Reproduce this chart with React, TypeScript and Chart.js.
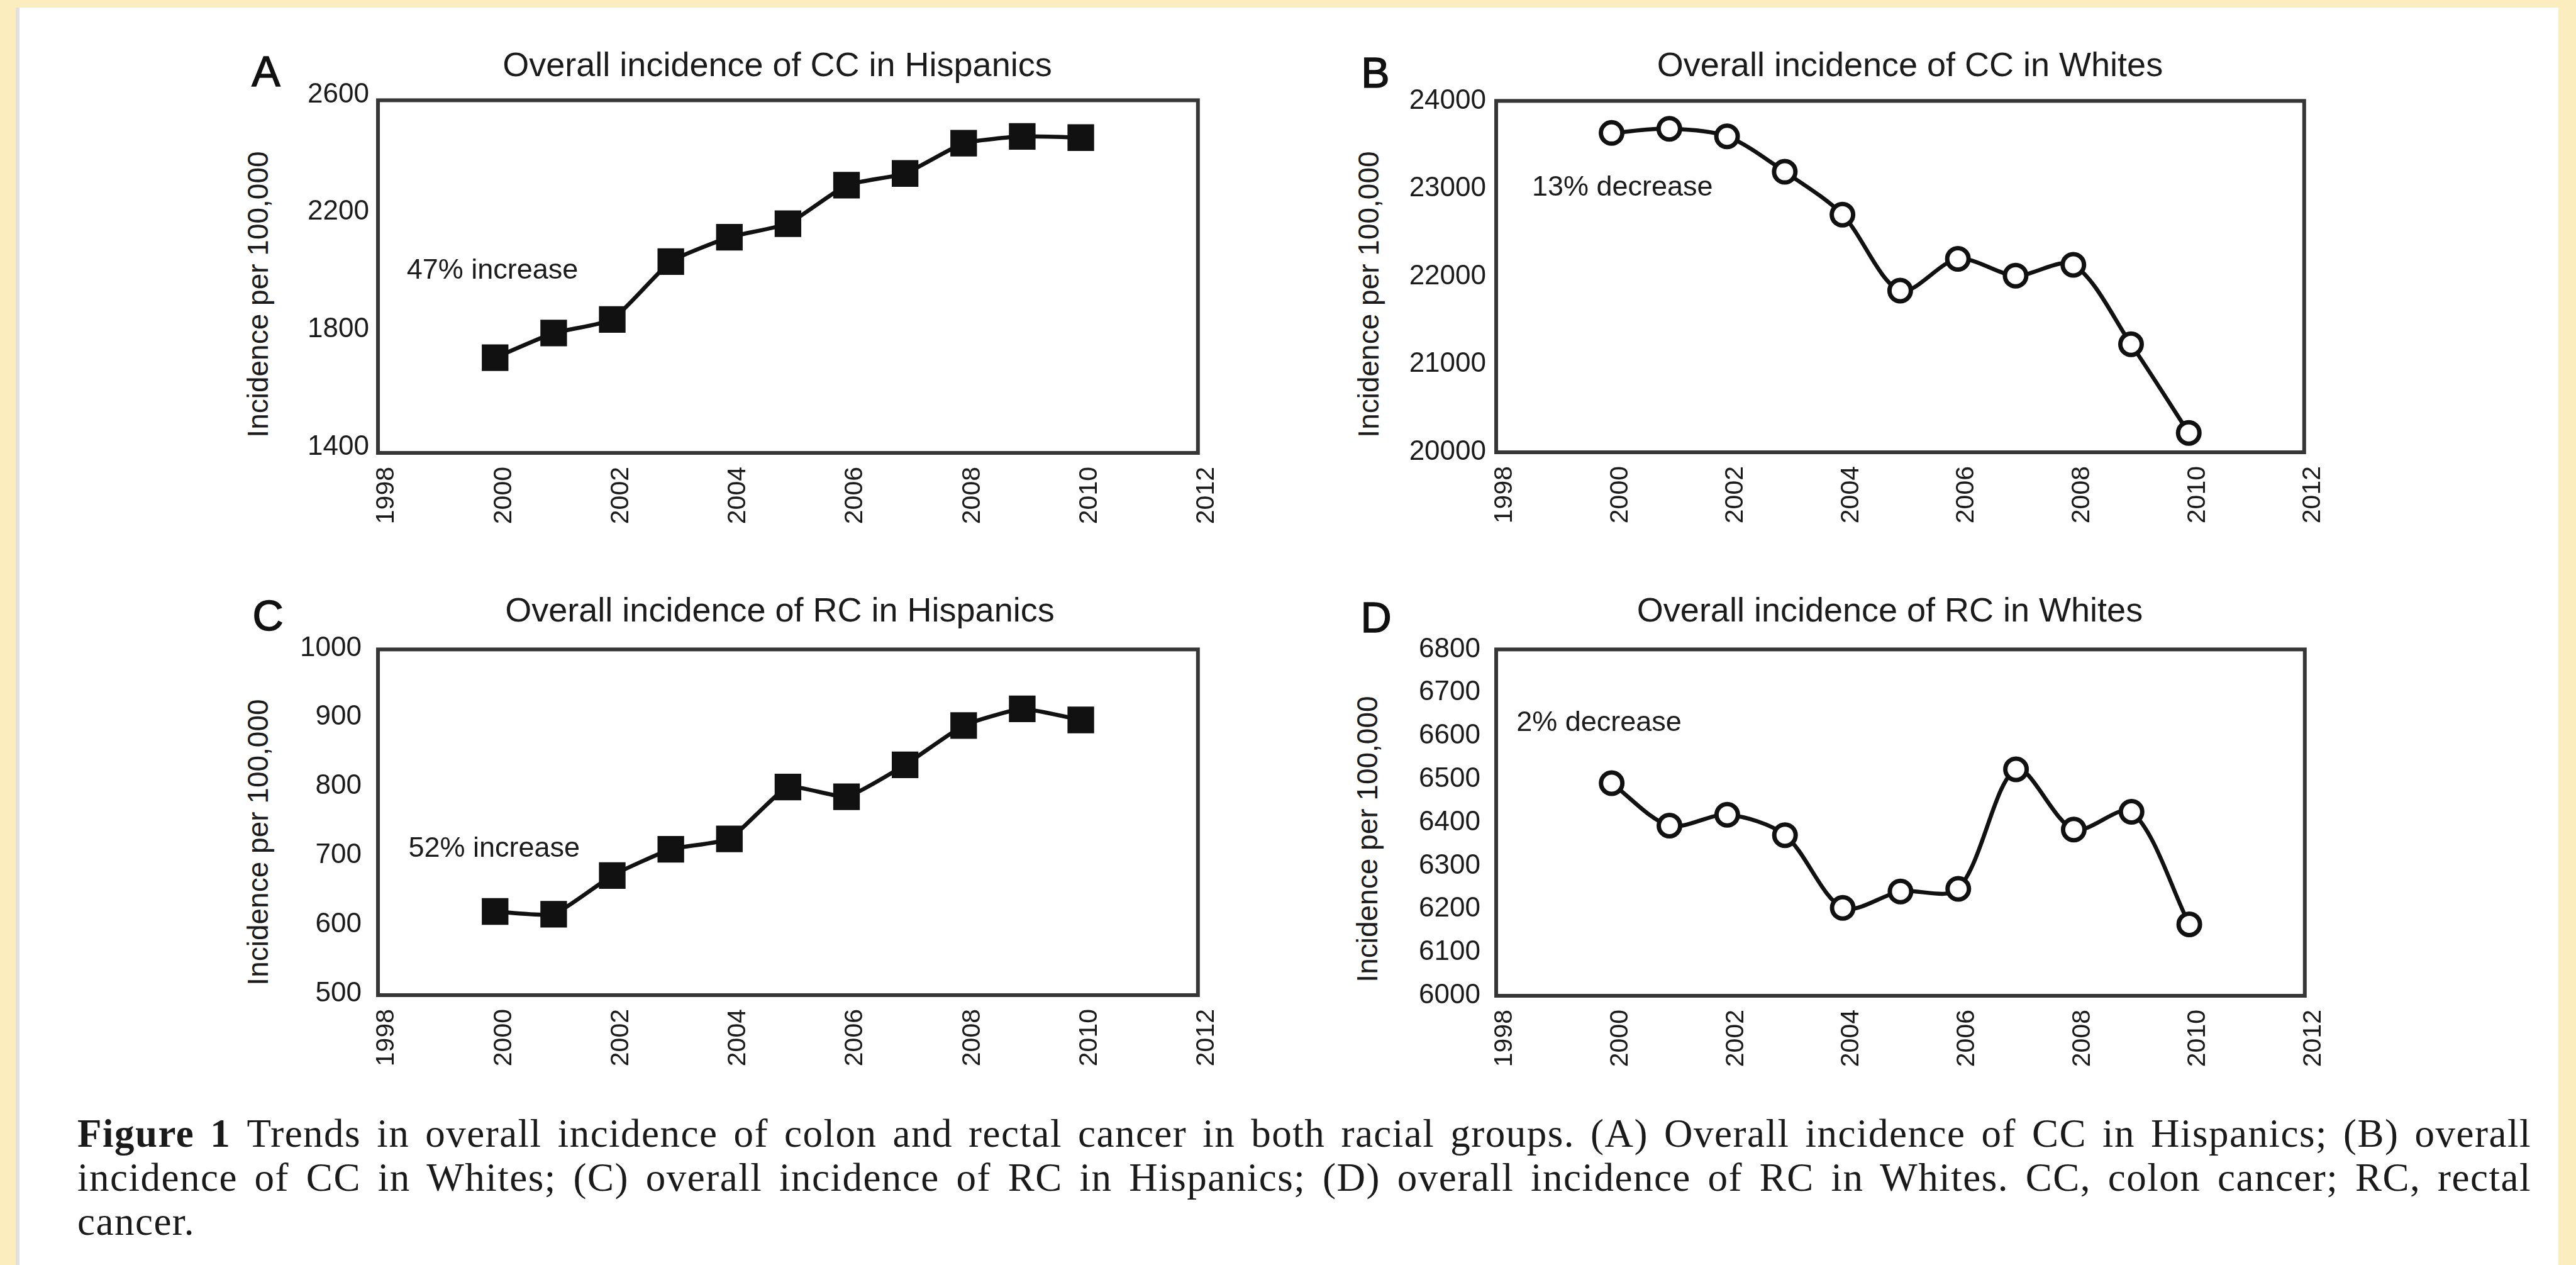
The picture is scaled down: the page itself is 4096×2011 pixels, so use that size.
import React, { useEffect, useRef } from 'react';
import { Chart, registerables } from 'chart.js';

Chart.register(...registerables);

// ---------- data ----------
const years = [2000, 2001, 2002, 2003, 2004, 2005, 2006, 2007, 2008, 2009, 2010];
const ccHispanics = [1724, 1808, 1854, 2051, 2134, 2180, 2311, 2351, 2454, 2477, 2473];
const ccWhites = [23635, 23683, 23597, 23193, 22705, 21840, 22202, 22011, 22134, 21230, 20221];
const rcHispanics = [621, 617, 673, 711, 726, 801, 787, 833, 890, 914, 898];
const rcWhites = [6491, 6393, 6418, 6371, 6203, 6241, 6247, 6523, 6384, 6425, 6165];

const xTickLabels = [1998, 2000, 2002, 2004, 2006, 2008, 2010, 2012];
const yTicksCCHispanics = [1400, 1800, 2200, 2600];
const yTicksCCWhites = [20000, 21000, 22000, 23000, 24000];
const yTicksRCHispanics = [500, 600, 700, 800, 900, 1000];
const yTicksRCWhites = [6000, 6100, 6200, 6300, 6400, 6500, 6600, 6700, 6800];

const panelLetters = ['A', 'B', 'C', 'D'];
const panelTitles = [
  'Overall incidence of CC in Hispanics',
  'Overall incidence of CC in Whites',
  'Overall incidence of RC in Hispanics',
  'Overall incidence of RC in Whites',
];
const yAxisTitle = 'Incidence per 100,000';
const annotationTexts = ['47% increase', '13% decrease', '52% increase', '2% decrease'];
const annotationYears = [1998.49, 1998.62, 1998.52, 1998.35];
const annotationValues = [2020, 23009, 711, 6629];

const captionLines = [
  'Trends in overall incidence of colon and rectal cancer in both racial groups. (A) Overall incidence of CC in Hispanics; (B) overall',
  'incidence of CC in Whites; (C) overall incidence of RC in Hispanics; (D) overall incidence of RC in Whites. CC, colon cancer; RC, rectal',
  'cancer.',
];

// ---------- layout (output pixels) ----------
const SANS = '"Liberation Sans", Arial, Helvetica, sans-serif';
const SERIF = '"Liberation Serif", "Times New Roman", serif';
const INK = '#1b1b1b';

type Box = { l: number; r: number; t: number; b: number };
const boxes: Box[] = [
  { l: 601, r: 1926, t: 159, b: 720 },
  { l: 2379, r: 3685, t: 158, b: 719 },
  { l: 601, r: 1926, t: 1020, b: 1582 },
  { l: 2379, r: 3686, t: 1021, b: 1583 },
];
const titlePos = [
  [1236, 102],
  [3037, 102],
  [1240, 969],
  [3005, 969],
];
const letterPos = [
  [423, 113],
  [2187, 115],
  [426, 978],
  [2188, 981],
];
const yTitlePos = [
  [410, 468],
  [2176, 468],
  [410, 1339],
  [2174, 1334],
];
const yTickPadding = [14, 16, 26, 25];
const yTickShift = [-9, 0, -2, 0];

const PAD_L = 150;
const PAD_T = 40;
const PAD_R = 50;
const PAD_B = 140;

const framePlugin = {
  id: 'frameBox',
  beforeDatasetsDraw(chart: any) {
    const { ctx, chartArea } = chart;
    const { left, top, right, bottom } = chartArea;
    ctx.save();
    ctx.strokeStyle = '#363636';
    ctx.lineWidth = 6;
    ctx.strokeRect(left, top, right - left, bottom - top);
    ctx.restore();
  },
};

function makeAnnotationPlugin(text: string, xv: number, yv: number) {
  return {
    id: 'annot',
    afterDraw(chart: any) {
      const { ctx, scales } = chart;
      const px = scales.x.getPixelForValue(xv);
      const py = scales.y.getPixelForValue(yv);
      ctx.save();
      ctx.font = `45px ${SANS}`;
      ctx.fillStyle = INK;
      ctx.textAlign = 'left';
      ctx.textBaseline = 'middle';
      ctx.fillText(text, px, py);
      ctx.restore();
    },
  };
}

type PanelProps = {
  idx: number;
  values: number[];
  yTicks: number[];
  marker: 'rect' | 'circle';
  tension: number;
};

function Panel({ idx, values, yTicks, marker, tension }: PanelProps) {
  const ref = useRef<HTMLCanvasElement | null>(null);
  const box = boxes[idx];
  const width = box.r - box.l + PAD_L + PAD_R;
  const height = box.b - box.t + PAD_T + PAD_B;

  useEffect(() => {
    if (!ref.current) return;
    const isRect = marker === 'rect';
    const chart = new Chart(ref.current, {
      type: 'line',
      data: {
        datasets: [
          {
            data: years.map((yr, i) => ({ x: yr, y: values[i] })),
            borderColor: '#111111',
            borderWidth: 6.5,
            tension,
            fill: false,
            pointStyle: marker,
            pointRadius: isRect ? 28.5 : 17,
            pointBorderWidth: isRect ? 2 : 7,
            pointBackgroundColor: isRect ? '#111111' : '#ffffff',
            pointBorderColor: '#111111',
            clip: false,
          } as any,
        ],
      },
      options: {
        animation: false,
        responsive: false,
        events: [],
        layout: { padding: { top: PAD_T, right: PAD_R, left: 0, bottom: 0 } },
        plugins: {
          legend: { display: false },
          tooltip: { enabled: false },
          title: { display: false },
        },
        scales: {
          x: {
            type: 'linear',
            min: xTickLabels[0],
            max: xTickLabels[xTickLabels.length - 1],
            afterBuildTicks: (axis: any) => {
              axis.ticks = xTickLabels.map((v) => ({ value: v }));
            },
            afterFit: (s: any) => {
              s.height = PAD_B;
            },
            grid: { display: false, drawTicks: false },
            border: { display: false },
            ticks: {
              autoSkip: false,
              minRotation: 90,
              maxRotation: 90,
              padding: 22,
              labelOffset: 14,
              color: INK,
              font: { size: 41, family: SANS },
              callback: (v: any) => String(v),
            },
          },
          y: {
            type: 'linear',
            min: yTicks[0],
            max: yTicks[yTicks.length - 1],
            afterBuildTicks: (axis: any) => {
              axis.ticks = yTicks.map((v) => ({ value: v }));
            },
            afterFit: (s: any) => {
              s.width = PAD_L;
            },
            grid: { display: false, drawTicks: false },
            border: { display: false },
            ticks: {
              autoSkip: false,
              padding: yTickPadding[idx],
              labelOffset: yTickShift[idx],
              color: INK,
              font: { size: 44, family: SANS },
              callback: (v: any) => String(v),
            },
          },
        } as any,
      },
      plugins: [
        framePlugin,
        makeAnnotationPlugin(annotationTexts[idx], annotationYears[idx], annotationValues[idx]),
      ],
    });
    return () => chart.destroy();
  }, [idx, values, yTicks, marker, tension]);

  return (
    <>
      <canvas
        ref={ref}
        width={width}
        height={height}
        style={{
          position: 'absolute',
          left: box.l - PAD_L,
          top: box.t - PAD_T,
          width,
          height,
        }}
      />
      <div
        style={{
          position: 'absolute',
          left: titlePos[idx][0],
          top: titlePos[idx][1],
          transform: 'translate(-50%, -50%)',
          fontFamily: SANS,
          fontSize: 54,
          lineHeight: 1,
          whiteSpace: 'nowrap',
          color: INK,
        }}
      >
        {panelTitles[idx]}
      </div>
      <div
        style={{
          position: 'absolute',
          left: letterPos[idx][0],
          top: letterPos[idx][1],
          transform: 'translate(-50%, -50%)',
          fontFamily: SANS,
          fontSize: 68,
          lineHeight: 1,
          color: '#111',
          WebkitTextStroke: '1.5px #111',
        }}
      >
        {panelLetters[idx]}
      </div>
      <div
        style={{
          position: 'absolute',
          left: yTitlePos[idx][0],
          top: yTitlePos[idx][1],
          transform: 'translate(-50%, -50%) rotate(-90deg)',
          fontFamily: SANS,
          fontSize: 46,
          lineHeight: 1,
          whiteSpace: 'nowrap',
          color: INK,
        }}
      >
        {yAxisTitle}
      </div>
    </>
  );
}

export default function App() {
  return (
    <div
      style={{
        position: 'absolute',
        left: 0,
        top: 0,
        width: 4096,
        height: 2011,
        overflow: 'hidden',
        background: '#fcedbe',
      }}
    >
      <div
        style={{
          position: 'absolute',
          left: 25,
          top: 12,
          width: 4068 - 25,
          height: 2011 - 12,
          background: '#ffffff',
          borderLeft: '6px solid #e3e0e0',
          boxSizing: 'border-box',
        }}
      />
      <Panel idx={0} values={ccHispanics} yTicks={yTicksCCHispanics} marker="rect" tension={0.15} />
      <Panel idx={1} values={ccWhites} yTicks={yTicksCCWhites} marker="circle" tension={0.3} />
      <Panel idx={2} values={rcHispanics} yTicks={yTicksRCHispanics} marker="rect" tension={0.15} />
      <Panel idx={3} values={rcWhites} yTicks={yTicksRCWhites} marker="circle" tension={0.3} />
      <div
        style={{
          position: 'absolute',
          left: 123,
          top: 1767,
          width: 3902,
          fontFamily: SERIF,
          fontSize: 63,
          letterSpacing: '1.5px',
          lineHeight: '70px',
          color: '#1a1a1a',
        }}
      >
        {captionLines.map((line, i) => (
          <div
            key={i}
            style={{
              textAlign: 'justify',
              textAlignLast: i < captionLines.length - 1 ? 'justify' : 'left',
              whiteSpace: 'nowrap',
            }}
          >
            {i === 0 ? <b>Figure 1 </b> : null}
            {line}
          </div>
        ))}
      </div>
    </div>
  );
}
